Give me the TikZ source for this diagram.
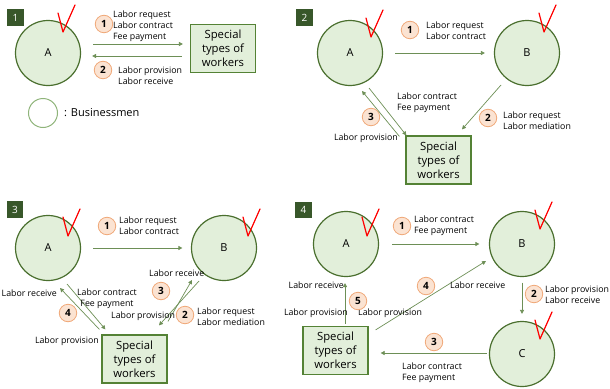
\documentclass[tikz,border=0pt]{standalone}
\usepackage{fontspec}
\setmainfont{Open Sans}
\usepackage{tikz}
\usetikzlibrary{positioning,calc,arrows.meta}
\definecolor{bizline}{HTML}{4A6F2E}
\definecolor{bizfill}{HTML}{E2EFDA}
\definecolor{boxline}{HTML}{548235}
\definecolor{tagfill}{HTML}{38572A}
\definecolor{numfill}{HTML}{FBE3D2}
\definecolor{numline}{HTML}{F0A878}
\definecolor{flowline}{HTML}{6D8F56}
\definecolor{legline}{HTML}{8FB47A}
\tikzset{
  vmark/.pic={\draw[red,line width=1.2pt,line join=round,line cap=round] (0,0) -- (5,19) -- (17,-8);}
}

\begin{document}
\begin{tikzpicture}[
  x=1pt,y=-1pt,
  biz/.style={circle,draw=bizline,fill=bizfill,line width=1.2pt,minimum size=65pt,inner sep=0,font=\fontsize{11}{12}\selectfont},
  wbox/.style={draw=boxline,fill=bizfill,line width=1.2pt,minimum width=65pt,minimum height=48pt,inner sep=0,align=center,font=\fontsize{11.3}{14}\selectfont},
  num/.style={circle,draw=numline,fill=numfill,line width=0.8pt,minimum size=17.5pt,inner sep=0,font=\bfseries\fontsize{10}{10}\selectfont},
  tag/.style={fill=tagfill,text=white,minimum size=16.5pt,inner sep=0,font=\fontsize{10}{10}\selectfont},
  lbl/.style={inner sep=0,align=left,font=\fontsize{8.8}{11}\selectfont},
  flow/.style={-{Triangle[length=4pt,width=4pt]},draw=flowline,line width=0.7pt}
  ]
  \useasboundingbox (0,0) rectangle (610,388);
  % Panel 1
  \node[tag] (tag1) at (15.5,17.5) {1};
  \node[biz] (A1) at (48,53) {A};
  \node[wbox] (W1) at (223,48.5) {Special\\types of\\workers};
  \pic at ($(A1)+(10,-40)$) {vmark};
  \draw[flow] ($(A1.east)+(12,-9)$) -- ($(W1.west)+(-7,-4.5)$);
  \draw[flow] ($(W1.west)+(-8,7.5)$) -- ($(A1.east)+(11,3)$);
  \node[num] (n11) at (104,24) {1};
  \node[lbl,anchor=west] (t11) at (113,26) {Labor request\\Labor contract\\Fee payment};
  \node[num] (n12) at (103,70) {2};
  \node[lbl,anchor=west] (t12) at (118,75.5) {Labor provision\\Labor receive};
  % Legend
  \node[circle,draw=legline,fill=white,line width=1pt,minimum size=29pt] (leg) at (43,113) {};
  \node[anchor=west,inner sep=0,font=\fontsize{11}{12}\selectfont] (legt) at (64,113) {: Businessmen};
  % Panel 2
  \node[tag] (tag2) at (304.5,17.5) {2};
  \node[biz] (A2) at (350,53) {A};
  \node[biz] (B2) at (527,53) {B};
  \node[wbox] (W2) at (438.5,160) {Special\\types of\\workers};
  \pic at ($(A2)+(16,-35)$) {vmark};
  \pic at ($(B2)+(12,-40)$) {vmark};
  \draw[flow] ([xshift=12pt]A2.east) -- ([xshift=-9pt]B2.west);
  \draw[flow] ($(A2)+(19,35)$) -- ($(W2.north west)+(1,0)$);
  \draw[flow] ($(W2.north west)+(-6,1)$) -- ($(A2)+(12,38)$);
  \draw[flow] ($(B2)+(-26,32)$) -- ($(W2.north)+(23.5,-6)$);
  \node[num] (n21) at (410,30) {1};
  \node[lbl,anchor=west] (t21) at (426,30.5) {Labor request\\Labor contract};
  \node[num] (n22) at (488,118) {2};
  \node[lbl,anchor=west] (t22) at (503,121) {Labor request\\Labor mediation};
  \node[num] (n23) at (371,117) {3};
  \node[lbl,anchor=west] (t23a) at (397,103) {Labor contract\\Fee payment};
  \node[lbl,anchor=east] (t23b) at (398,138) {Labor provision};
  % Panel 3
  \node[tag] (tag3) at (15,209.5) {3};
  \node[biz] (A3) at (48,248) {A};
  \node[biz] (B3) at (224,248) {B};
  \node[wbox] (W3) at (134.5,359) {Special\\types of\\workers};
  \pic at ($(A3)+(15,-31)$) {vmark};
  \pic at ($(B3)+(19,-31)$) {vmark};
  \draw[flow] ([xshift=12pt]A3.east) -- ([xshift=-8.5pt]B3.west);
  \draw[flow] ($(W3.north west)+(-2,-5)$) -- ($(A3)+(12,40)$);
  \draw[flow] ($(A3)+(19,36)$) -- ($(W3.north west)+(4,-5)$);
  \draw[flow] ($(B3)+(-25,33)$) -- ($(W3.north)+(24.5,-9)$);
  \draw[flow] ($(W3.north)+(33.5,-13)$) -- ($(B3)+(-32,32)$);
  \node[num] (n31) at (107,226) {1};
  \node[lbl,anchor=west] (t31) at (119,225.5) {Labor request\\Labor contract};
  \node[num] (n32) at (185,315) {2};
  \node[lbl,anchor=west] (t32) at (197,317) {Labor request\\Labor mediation};
  \node[num] (n33) at (161,291) {3};
  \node[lbl,anchor=west] (t33a) at (149,273) {Labor receive};
  \node[lbl,anchor=west] (t33b) at (111,316) {Labor provision};
  \node[num] (n34) at (68,313) {4};
  \node[lbl,anchor=east] (t34a) at (57,293) {Labor receive};
  \node[lbl,align=center] (t34b) at (107,299) {Labor contract\\Fee payment};
  \node[lbl,anchor=east] (t34c) at (99,341) {Labor provision};
  % Panel 4
  \node[tag] (tag4) at (303.5,210) {4};
  \node[biz] (A4) at (346,244) {A};
  \node[biz] (B4) at (522,244) {B};
  \node[biz] (C4) at (522,354) {C};
  \node[wbox] (W4) at (335.5,350.5) {Special\\types of\\workers};
  \pic at ($(A4)+(16,-27)$) {vmark};
  \pic at ($(B4)+(13,-34)$) {vmark};
  \pic at ($(C4)+(13,-34)$) {vmark};
  \draw[flow] ([xshift=13pt]A4.east) -- ([xshift=-9.5pt]B4.west);
  \draw[flow] ($(B4.south)+(0,5.5)$) -- ($(C4.north)+(0,-7)$);
  \draw[flow] ($(C4.west)+(-2,-1)$) -- ($(W4.east)+(12,2.5)$);
  \draw[flow] ($(W4.north east)+(7,4)$) -- ($(B4)+(-36,17)$);
  \draw[flow] ($(W4.north)+(9.5,-2)$) -- ($(A4.south)+(-1,6)$);
  \node[num] (n41) at (402,226) {1};
  \node[lbl,anchor=west] (t41) at (414,225.5) {Labor contract\\Fee payment};
  \node[num] (n42) at (534,294) {2};
  \node[lbl,anchor=west] (t42) at (545,294.5) {Labor provision\\Labor receive};
  \node[num] (n43) at (434,342) {3};
  \node[lbl,anchor=west] (t43) at (402,372.5) {Labor contract\\Fee payment};
  \node[num] (n44) at (426,286) {4};
  \node[lbl,anchor=west] (t44a) at (450,285) {Labor receive};
  \node[lbl,anchor=west] (t44b) at (358,313) {Labor provision};
  \node[num] (n45) at (358,301) {5};
  \node[lbl,anchor=east] (t45a) at (344,285) {Labor receive};
  \node[lbl,anchor=east] (t45b) at (348,313) {Labor provision};
\end{tikzpicture}
\end{document}
